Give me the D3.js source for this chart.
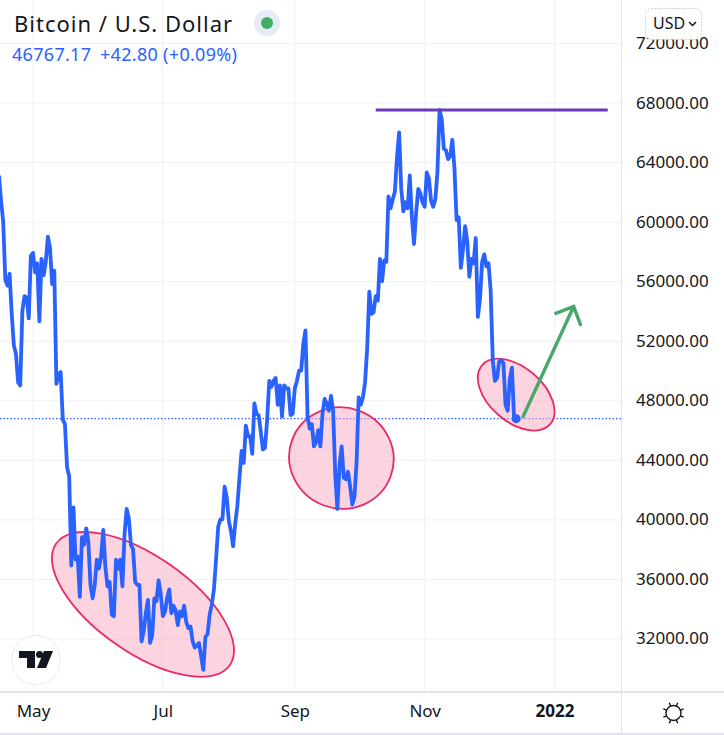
<!DOCTYPE html>
<html>
<head>
<meta charset="utf-8">
<script src="https://d3js.org/d3.v7.min.js"></script>
<style>
    body { margin: 0; background: #fff; }
    text { font-family: "Noto Sans", sans-serif; }
    .grid line { stroke: #f0f1f4; stroke-width: 1px; }
    .axis text { fill: #131722; font-size: 17px; }
    .sep { stroke: #e0e3eb; stroke-width: 2px; }
    .blob { fill: #f8a5bf; fill-opacity: 0.48; stroke: #e92a66; stroke-width: 1.8px; }
</style>
</head>
<body>
<svg id="chart" width="724" height="735"></svg>
<script>
const title = "Bitcoin / U.S. Dollar";
const quote = "46767.17";
const change = "+42.80 (+0.09%)";
const unit = "USD";

// daily closes, first one is 15 Apr 2021
const startDate = new Date(2021, 3, 15);
const closes = [
    // Apr 15-30
    63100, 61400, 60000, 56100, 55700, 56500, 53800, 51700, 51100, 49200, 49000, 54000, 55000, 54900, 53500, 57700,
    // May
    57900, 56600, 57200, 53300, 57500, 56400, 57300, 59000, 58200, 55800, 56700, 49100, 49700, 49900, 46700, 46400,
    43500, 42900, 36900, 40800, 37300, 37500, 34800, 38800, 38300, 39400, 38500, 35600, 34700, 35600, 37300,
    // Jun
    36700, 37500, 39300, 36800, 35500, 35800, 33600, 33500, 37300, 36700, 37300, 35500, 39000, 40700, 40100, 38300,
    38000, 35800, 35600, 35600, 31800, 32500, 33700, 34600, 31700, 32200, 34700, 34500, 35900, 35000,
    // Jul
    33500, 33800, 34700, 35300, 33700, 34200, 33900, 32900, 33800, 33500, 34200, 33100, 32700, 32800, 31800, 31400,
    31500, 31700, 30800, 29900, 32100, 32300, 33600, 34300, 35300, 37300, 39500, 40000, 40000, 42200, 41500,
    // Aug
    39900, 39200, 38200, 39700, 40900, 42800, 44600, 43800, 46300, 45600, 45600, 44400, 47800, 47100, 47000, 45900,
    44700, 44800, 46700, 49300, 48900, 49300, 49500, 47700, 49000, 46900, 49000, 48800, 48800, 47000, 47100,
    // Sep
    48800, 49300, 50000, 50000, 51800, 52700, 46900, 46100, 46400, 44900, 45200, 46000, 44900, 47100, 48100, 47800,
    47300, 48300, 47300, 43000, 40700, 43600, 44900, 42800, 42700, 43200, 42200, 41000, 41500, 43800,
    // Oct
    48200, 47700, 48200, 49200, 51500, 55300, 53800, 53900, 55000, 54700, 57500, 56000, 57400, 57300, 61700, 60900,
    61500, 62000, 64300, 66000, 62200, 60700, 61300, 60900, 63100, 60300, 58500, 60600, 62200, 61900, 61300,
    // Nov
    61000, 63300, 62900, 61400, 61000, 61500, 63300, 67500, 66900, 64900, 64800, 64200, 64400, 65500, 63600, 60100,
    60300, 56900, 58100, 59700, 58700, 56300, 57500, 57200, 58900, 53600, 54800, 57300, 57800, 57000,
    // Dec 1-14
    57200, 55400, 50700, 49300, 49500, 50600, 50700, 50500, 47700, 47300, 49400, 50200, 46800, 46767
];

const priceTicks = [72000, 68000, 64000, 60000, 56000, 52000, 48000, 44000, 40000, 36000, 32000];
const timeTicks = [new Date(2021, 4, 1), new Date(2021, 6, 1), new Date(2021, 8, 1), new Date(2021, 10, 1), new Date(2022, 0, 1)];
const timeLabels = ["May", "Jul", "Sep", "Nov", "2022"];

const levelPrice = 67500;
const levelDates = [new Date(2021, 9, 9), new Date(2022, 0, 26)];

// hand drawn shapes on the chart: centre date + price, radii in px, tilt in degrees
const blobDates = [new Date(2021, 5, 21, 16), new Date(2021, 8, 22, 21), new Date(2021, 11, 14)];
const blobPrices = [34290, 44120, 48380];
const blobRx = [106, 52.5, 45];
const blobRy = [48, 50.5, 27];
const blobTilt = [35, 20, 41];

// arrow: foot, left barb, tip, right barb
const arrowDates = [new Date(2021, 11, 17), new Date(2022, 0, 1, 0), new Date(2022, 0, 10), new Date(2022, 0, 13, 10)];
const arrowPrices = [46830, 53800, 54300, 53000];

const plotRight = 621, plotBottom = 692, bottom = 734;
const lineColor = "#2962ff";

const svg = d3.select("#chart");
const x = d3.scaleTime()
    .domain([new Date(2021, 4, 1), new Date(2022, 0, 1)])
    .range([33, 554.5]);
const y = d3.scaleLinear().domain([32000, 72000]).range([638.5, 43]);

// grid
svg.append("g").attr("class", "grid")
    .selectAll("line.h").data(priceTicks).join("line").attr("class", "h")
    .attr("x1", 0).attr("x2", plotRight)
    .attr("y1", d => y(d) + 0.5).attr("y2", d => y(d) + 0.5);
svg.select(".grid")
    .selectAll("line.v").data(timeTicks).join("line").attr("class", "v")
    .attr("y1", 0).attr("y2", plotBottom)
    .attr("x1", d => x(d)).attr("x2", d => x(d));

// last price line
const lastPrice = closes[closes.length - 1];
svg.append("line")
    .attr("x1", 0).attr("x2", plotRight)
    .attr("y1", y(lastPrice)).attr("y2", y(lastPrice))
    .attr("stroke", lineColor).attr("stroke-width", 1.2).attr("stroke-dasharray", "1.5 2");

// pink ellipses
svg.selectAll("ellipse.blob").data(blobDates).join("ellipse")
    .attr("class", "blob")
    .attr("rx", (d, i) => blobRx[i])
    .attr("ry", (d, i) => blobRy[i])
    .attr("transform", (d, i) => "translate(" + x(d) + "," + y(blobPrices[i]) + ") rotate(" + blobTilt[i] + ")");

// price line
const dayOf = i => d3.timeDay.offset(startDate, i);
const line = d3.line().x((d, i) => x(dayOf(i))).y(d => y(d));
svg.append("path").datum(closes)
    .attr("d", line)
    .attr("fill", "none")
    .attr("stroke", lineColor)
    .attr("stroke-width", 3.8)
    .attr("stroke-linejoin", "round");
const lastDate = dayOf(closes.length - 1);
svg.append("circle")
    .attr("cx", x(lastDate)).attr("cy", y(lastPrice)).attr("r", 4.5)
    .attr("fill", lineColor);

// top level
svg.append("line")
    .attr("x1", x(levelDates[0])).attr("x2", x(levelDates[1]))
    .attr("y1", y(levelPrice)).attr("y2", y(levelPrice))
    .attr("stroke", "#673ab7").attr("stroke-width", 3);

// green arrow
const arrowPts = arrowDates.map((d, i) => [x(d), y(arrowPrices[i])]);
svg.append("path")
    .attr("d", "M" + arrowPts[0] + "L" + arrowPts[2] + "M" + arrowPts[1] + "L" + arrowPts[2] + "L" + arrowPts[3])
    .attr("fill", "none").attr("stroke", "#47a968").attr("stroke-width", 3.4);

// axes
svg.append("g").attr("class", "axis")
    .attr("transform", "translate(" + plotRight + ",0)")
    .call(d3.axisRight(y).tickValues(priceTicks).tickSize(0).tickPadding(15).tickFormat(d3.format(".2f")))
    .call(g => g.select(".domain").remove());

svg.append("g").attr("class", "axis")
    .attr("transform", "translate(0," + plotBottom + ")")
    .call(d3.axisBottom(x).tickValues(timeTicks).tickSize(0).tickPadding(13)
        .tickFormat((d, i) => timeLabels[i]))
    .call(g => g.select(".domain").remove())
    .selectAll("text").style("font-weight", d => d.getMonth() == 0 ? 700 : 400);

svg.append("line").attr("class", "sep").attr("x1", 0).attr("x2", 724).attr("y1", plotBottom).attr("y2", plotBottom);
svg.append("line").attr("class", "sep").attr("x1", 0).attr("x2", 724).attr("y1", bottom).attr("y2", bottom);
svg.append("line").attr("class", "sep").style("stroke-width", 1)
    .attr("x1", plotRight + 0.5).attr("x2", plotRight + 0.5).attr("y1", 0).attr("y2", bottom);

// header
svg.append("text").attr("x", 14).attr("y", 32)
    .attr("font-size", 22).attr("letter-spacing", 1).attr("fill", "#131722").text(title);
svg.append("text").attr("x", 12).attr("y", 61)
    .attr("font-size", 18).attr("letter-spacing", 0.3).attr("fill", lineColor).text(quote);
svg.append("text").attr("x", 100).attr("y", 61)
    .attr("font-size", 18).attr("letter-spacing", 0.3).attr("fill", lineColor).text(change);
svg.append("circle").attr("cx", 267).attr("cy", 23).attr("r", 13).attr("fill", "#e6ebf6");
svg.append("circle").attr("cx", 267).attr("cy", 23).attr("r", 6).attr("fill", "#3fae62");

// currency button
svg.append("rect").attr("x", 645.5).attr("y", 8.5).attr("width", 56).attr("height", 31).attr("rx", 6)
    .attr("fill", "#fff").attr("stroke", "#c9c6e0").attr("stroke-dasharray", "1.5 1.5");
svg.append("text").attr("x", 653).attr("y", 29).attr("font-size", 16).attr("fill", "#131722").text(unit);
svg.append("path").attr("d", "M689,22l3.5,3.5l3.5,-3.5")
    .attr("fill", "none").attr("stroke", "#131722").attr("stroke-width", 1.5);

// logo badge
svg.append("circle").attr("cx", 36).attr("cy", 660).attr("r", 24.5)
    .attr("fill", "#fff").attr("stroke", "#d8d8d8").attr("stroke-dasharray", "1.5 1.5");
svg.append("path").attr("fill", "#131722")
    .attr("d", "M19,651H35V668H27V658H19Z M44,651H53L46,668H37Z");
svg.append("circle").attr("cx", 39.5).attr("cy", 654.5).attr("r", 3.5).attr("fill", "#131722");

// settings icon
const sun = svg.append("g").attr("transform", "translate(673.5,713)")
    .attr("fill", "none").attr("stroke", "#131722").attr("stroke-width", 1.4);
sun.append("circle").attr("r", 7.5);
sun.selectAll("line").data(d3.range(8)).join("line")
    .attr("y1", 7.5).attr("y2", 11)
    .attr("transform", d => "rotate(" + (d * 45 + 22.5) + ")");
</script>
</body>
</html>
